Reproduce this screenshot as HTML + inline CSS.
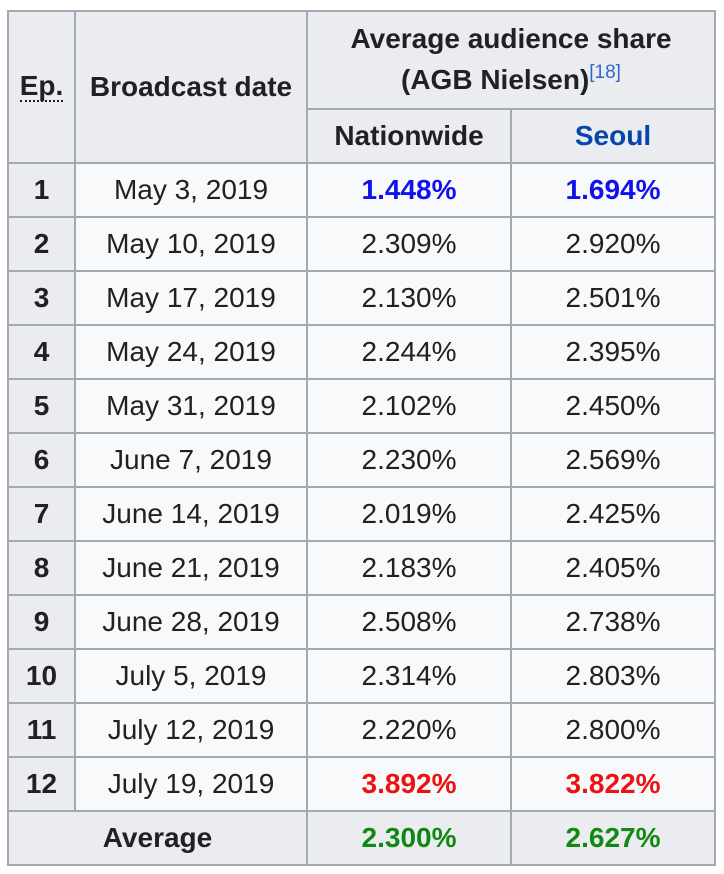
<!DOCTYPE html>
<html><head><meta charset="utf-8"><style>
body{margin:0;background:#fff;width:724px;height:874px;overflow:hidden;font-family:"Liberation Sans",Arial,sans-serif;}
.g{position:absolute;left:7px;top:10px;display:grid;grid-template-columns:65px 230px 202px 202px;grid-template-rows:96px repeat(14,52px);gap:2px;padding:2px;background:#a2a9b1;}
.g>div{display:flex;align-items:center;justify-content:center;font-size:28px;color:#202122;background:#f8f9fa;text-align:center;line-height:1.45;font-family:"Liberation Sans",Arial,sans-serif;}
.g>div.h{background:#eaecf0;font-weight:bold}
.bl{color:#1111ee!important;font-weight:bold}
.rd{color:#ee1111!important;font-weight:bold}
.gr{color:#118811!important;font-weight:bold}
sup{font-size:19px;color:#3366cc;font-weight:normal;vertical-align:11px;line-height:0}
</style></head><body>
<div class="g">
<div class="h" style="grid-row:1/3"><span style="border-bottom:2px dotted #202122;line-height:1">Ep.</span></div>
<div class="h" style="grid-row:1/3">Broadcast date</div>
<div class="h" style="grid-column:3/5"><span>Average audience share<br>(AGB Nielsen)<sup>[18]</sup></span></div>
<div class="h">Nationwide</div>
<div class="h" style="color:#0645ad">Seoul</div>

<div class="h">1</div><div>May 3, 2019</div><div class="bl">1.448%</div><div class="bl">1.694%</div>
<div class="h">2</div><div>May 10, 2019</div><div>2.309%</div><div>2.920%</div>
<div class="h">3</div><div>May 17, 2019</div><div>2.130%</div><div>2.501%</div>
<div class="h">4</div><div>May 24, 2019</div><div>2.244%</div><div>2.395%</div>
<div class="h">5</div><div>May 31, 2019</div><div>2.102%</div><div>2.450%</div>
<div class="h">6</div><div>June 7, 2019</div><div>2.230%</div><div>2.569%</div>
<div class="h">7</div><div>June 14, 2019</div><div>2.019%</div><div>2.425%</div>
<div class="h">8</div><div>June 21, 2019</div><div>2.183%</div><div>2.405%</div>
<div class="h">9</div><div>June 28, 2019</div><div>2.508%</div><div>2.738%</div>
<div class="h">10</div><div>July 5, 2019</div><div>2.314%</div><div>2.803%</div>
<div class="h">11</div><div>July 12, 2019</div><div>2.220%</div><div>2.800%</div>
<div class="h">12</div><div>July 19, 2019</div><div class="rd">3.892%</div><div class="rd">3.822%</div>
<div class="h" style="grid-column:1/3">Average</div><div class="h gr">2.300%</div><div class="h gr">2.627%</div>
</div>
</body></html>
